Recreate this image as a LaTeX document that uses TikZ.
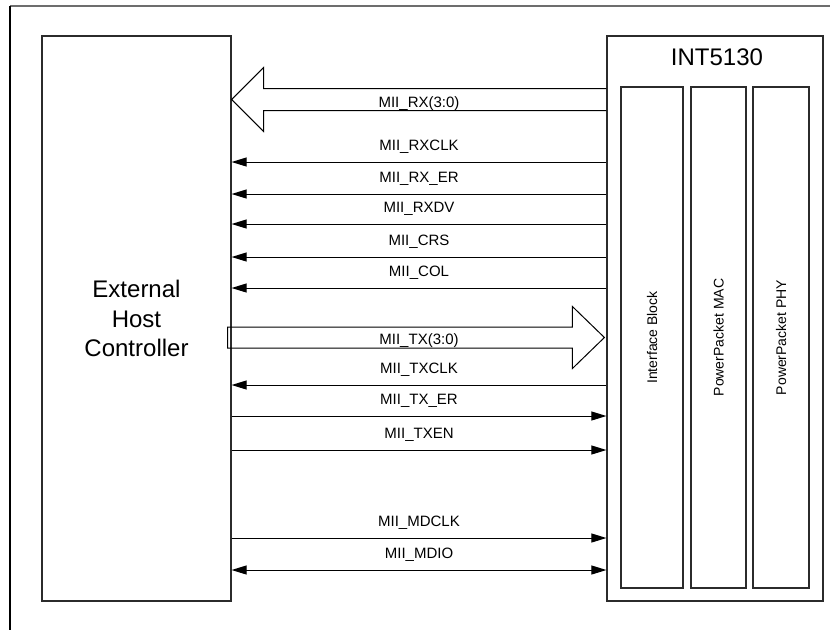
\documentclass[tikz,border=0pt]{standalone}
\usepackage{fontspec}
\setmainfont{Liberation Sans}
\usepackage{tikz}
\usetikzlibrary{arrows.meta, calc}
\definecolor{framegray}{HTML}{6D6D6D}
\definecolor{boxline}{HTML}{2B2B2B}

\begin{document}
\begin{tikzpicture}[x=1pt, y=-1pt,
  >={Triangle[length=15pt, width=9pt]},
  blk/.style={draw=boxline, line width=1.2pt, inner sep=0pt},
  sig/.style={draw=black, line width=1pt},
  bus/.style={draw=black, line width=1pt, line join=miter},
  lab/.style={font=\fontsize{15}{18}\selectfont, anchor=base, inner sep=0pt},
  tohost/.style={<-}, tochip/.style={->}, twoway/.style={<->}]

  \useasboundingbox (0,0) rectangle (830,630);

  %% Frame
  \draw[framegray, line width=1.8pt] (10,6) -- (830,6);
  \draw[black, line width=1.2pt] (10,6) -- (10,630);

  %% ── Host side ─────────────────────────────────────────────────────────
  \node[blk, minimum width=189pt, minimum height=565pt, align=center,
    font=\fontsize{24}{29.5}\selectfont] (host) at (136.5,318.5)
    {External\\Host\\Controller};

  %% ── INT5130 with its three blocks ─────────────────────────────────────
  \node[blk, minimum width=216pt, minimum height=565pt] (chip) at (715,318.5) {};
  \node[font=\fontsize{24}{29}\selectfont, anchor=base, inner sep=0pt] (chipname)
    at ($(chip.north)+(2,30.5)$) {INT5130};
  \foreach \x/\w/\nm/\lab in {652/62/ifb/{Interface Block},
      718.5/55/mac/{PowerPacket MAC}, 781/56/phy/{PowerPacket PHY}} {
    \node[blk, rotate=90, minimum width=501pt, minimum height=\w pt,
      font=\fontsize{14}{17}\selectfont] (\nm) at (\x,337.5) {\lab};
  }

  %% Midline for the signal labels
  \coordinate (mid) at ($(host.east)!0.5!(chip.west)$);

  %% ── Bus arrows ────────────────────────────────────────────────────────
  \coordinate (rxtip) at (host.east |- 0,99.5);
  \draw[bus] (chip.west |- 0,88.5) -- ($(rxtip)+(32,-11)$) -- ($(rxtip)+(32,-32)$)
    -- (rxtip) -- ($(rxtip)+(32,32)$) -- ($(rxtip)+(32,11)$) -- (chip.west |- 0,110.5);
  \node[lab] (rxbus) at (mid |- 0,107) {MII\_RX(3:0)};

  \coordinate (txtip) at ($(chip.west |- 0,337.5)+(-2,0)$);
  \draw[bus] ($(host.east |- 0,327)+(-4,0)$) -- ($(txtip)+(-32,-10.5)$)
    -- ($(txtip)+(-32,-31)$) -- (txtip) -- ($(txtip)+(-32,31)$)
    -- ($(txtip)+(-32,10.5)$) -- ($(host.east |- 0,348)+(-4,0)$) -- cycle;
  \node[lab] (txbus) at (mid |- 0,344) {MII\_TX(3:0)};

  %% ── Single signals ────────────────────────────────────────────────────
  \foreach \y/\nm/\lab/\dir in {162/rxclk/{MII\_RXCLK}/tohost,
      194/rxer/{MII\_RX\_ER}/tohost, 224/rxdv/{MII\_RXDV}/tohost,
      257/crs/{MII\_CRS}/tohost, 288/col/{MII\_COL}/tohost,
      385/txclk/{MII\_TXCLK}/tohost, 416/txer/{MII\_TX\_ER}/tochip,
      450/txen/{MII\_TXEN}/tochip, 538/mdclk/{MII\_MDCLK}/tochip,
      570/mdio/{MII\_MDIO}/twoway} {
    \pgfmathsetmacro\ly{\y-11.5}
    \node[lab] (\nm) at (mid |- 0,\ly) {\lab};
    \draw[sig, \dir] (host.east |- 0,\y) -- (chip.west |- 0,\y);
  }

\end{tikzpicture}
\end{document}
